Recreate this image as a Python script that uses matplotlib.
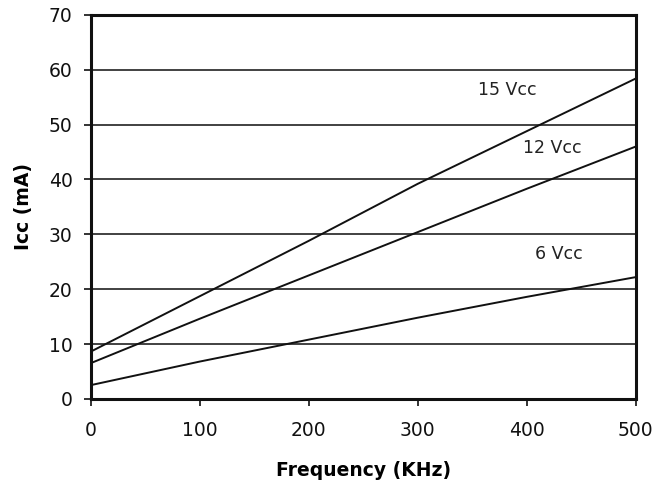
import matplotlib
matplotlib.use('Agg')
import matplotlib.pyplot as plt

plt.rcParams['font.family'] = ['DejaVu Sans']

# ── Data ────────────────────────────────────────────────────────────────────
freq_khz = [0, 100, 200, 300, 400, 500]
icc_15v = [8.6, 18.7, 28.8, 39.2, 48.8, 58.4]
icc_12v = [6.5, 14.6, 22.5, 30.4, 38.3, 46.0]
icc_6v = [2.5, 6.8, 10.8, 14.8, 18.6, 22.2]

series_labels = ['15 Vcc', '12 Vcc', '6 Vcc']
label_x = [382, 424, 430]
label_y = [56.4, 45.8, 26.4]

x_ticks = [0, 100, 200, 300, 400, 500]
y_ticks = [0, 10, 20, 30, 40, 50, 60, 70]

fig = plt.figure(figsize=(6.56, 4.98), dpi=100)
ax = fig.add_axes([0.138, 0.199, 0.831, 0.771])

for y in y_ticks[1:-1]:
    ax.axhline(y, color='#333333', linewidth=1.3, zorder=1)

for vals in (icc_15v, icc_12v, icc_6v):
    ax.plot(freq_khz, vals, color='#111111', linewidth=1.4, zorder=2)

for txt, x, y in zip(series_labels, label_x, label_y):
    ax.text(x, y, txt, fontsize=12.5, ha='center', va='center', color='#222222')

ax.set_xlim(0, 500)
ax.set_ylim(0, 70)
ax.set_xticks(x_ticks)
ax.set_yticks(y_ticks)
ax.tick_params(direction='out', length=5, width=1.2, labelsize=13.5,
               colors='#111111', pad=8)
ax.tick_params(axis='x', pad=11)

for spine in ax.spines.values():
    spine.set_linewidth(2.2)
    spine.set_color('#111111')

ax.set_xlabel('Frequency (KHz)', fontsize=13.5, fontweight='bold', labelpad=15)
ax.set_ylabel('Icc (mA)', fontsize=13.5, fontweight='bold', labelpad=11)

fig.savefig('out.png', dpi=100, facecolor='white')
